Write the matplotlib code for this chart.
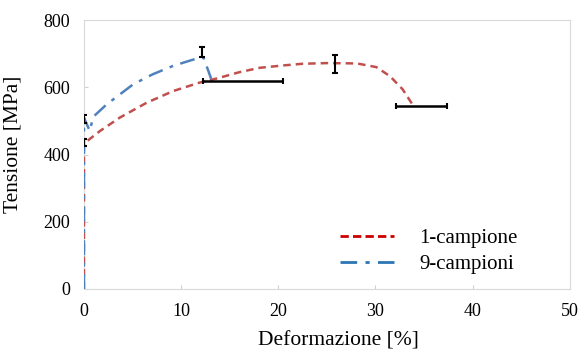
import matplotlib
matplotlib.use('Agg')
import matplotlib.pyplot as plt
from matplotlib.lines import Line2D

plt.rcParams['font.family'] = ['Liberation Serif', 'DejaVu Serif']

# 1-campione (curva rossa)
x_1 = [0, 0, 0.1, 1.65, 3.7, 6.45, 9.2, 11.9, 13.65, 16.0, 18.1, 20.5, 22.5, 25.0, 28.1, 30.1, 31.5, 32.8, 33.9]
y_1 = [0, 430, 435, 470, 510, 554, 589, 614, 626, 645, 658, 665, 670, 672, 671, 660, 633, 594, 545]

# 9-campioni (curva blu)
x_9 = [0, 0, 0.6, 0.95, 2.33, 3.7, 5.07, 7.1, 9.2, 11.2, 12.3, 13.1]
y_9 = [0, 510, 470, 512, 549, 579, 609, 639, 664, 682, 689, 625]

# barre d'errore verticali
ev_x = [0, 0, 12.2, 25.8]
ev_y = [435, 507, 705, 670]
ev_err = [11, 12, 15, 27]

# barre d'errore orizzontali
eh_x = [16.4, 34.75]
eh_y = [618, 543]
eh_err = [4.1, 2.65]

fig = plt.figure(figsize=(5.79, 3.52), dpi=100)
ax = fig.add_axes([0.145, 0.179, 0.839, 0.764])

ax.plot(x_1, y_1, '--', color='#c0504d', linewidth=1.8, dashes=(3, 2), zorder=3)
ax.plot(x_9, y_9, '-.', color='#4f81bd', linewidth=1.8, dashes=(6, 3, 1.5, 3), zorder=3)

ax.errorbar(ev_x, ev_y, yerr=ev_err, fmt='none', ecolor='black', elinewidth=1.5,
            capsize=2, capthick=1.5, zorder=4)
ax.errorbar(eh_x, eh_y, xerr=eh_err, fmt='none', ecolor='black', elinewidth=1.8,
            capsize=2, capthick=1.5, zorder=4)

ax.set_xlim(0, 50)
ax.set_ylim(0, 800)
ax.set_xticks(range(0, 51, 10))
ax.set_yticks(range(0, 801, 200))
ax.tick_params(labelsize=13, length=3, direction='in', color='#d0d0d0')
ax.tick_params(axis='x', pad=10)
ax.tick_params(axis='y', pad=10)
for s in ax.spines.values():
    s.set_color('#d9d9d9')

ax.set_xlabel('Deformazione [%]', fontsize=15.5, labelpad=8.5)
ax.xaxis.label.set_x(0.523)
ax.set_ylabel('Tensione [MPa]', fontsize=15.5)
ax.yaxis.set_label_coords(-0.126, 0.537)

handles = [Line2D([], [], color='#cc0000', linestyle='--', dashes=(3, 1.5), linewidth=2),
           Line2D([], [], color='#2e75b6', linestyle='-.', dashes=(6, 3, 1.5, 3), linewidth=2)]
fig.legend(handles, ['1-campione', '9-campioni'], loc='upper left', frameon=False,
           fontsize=15, handlelength=2.6, handletextpad=1.2, labelspacing=0.3,
           borderpad=0, borderaxespad=0, bbox_to_anchor=(0.587, 0.351))

fig.savefig('out.png', dpi=100, facecolor='white')
